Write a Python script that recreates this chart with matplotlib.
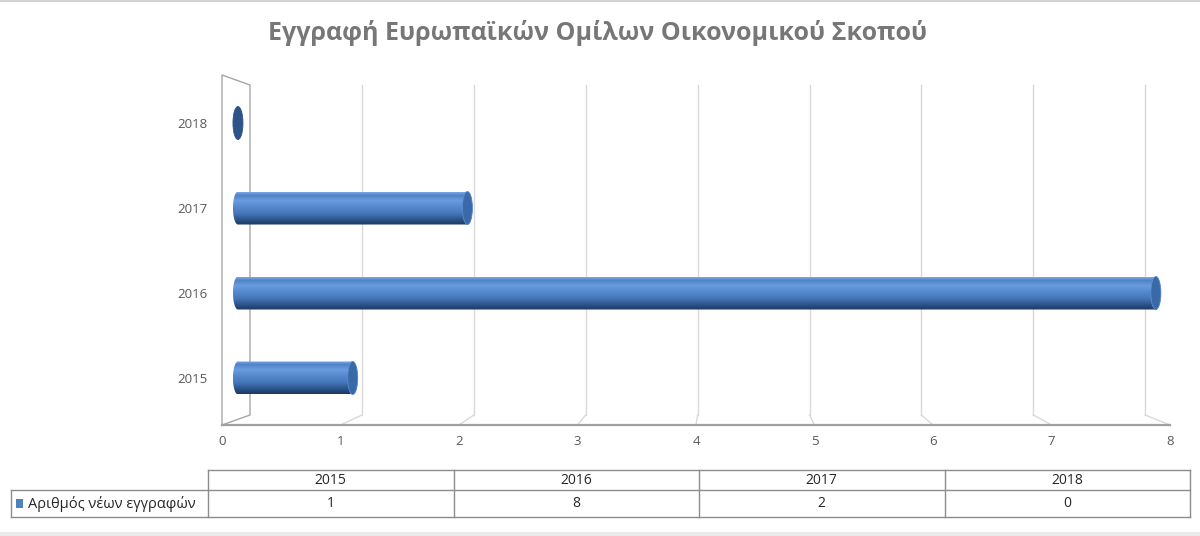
import numpy as np
import matplotlib
matplotlib.use("Agg")
import matplotlib.pyplot as plt
from matplotlib.colors import LinearSegmentedColormap
from matplotlib.patches import Ellipse, PathPatch, Rectangle
from matplotlib.path import Path

plt.rcParams['font.family'] = ['Open Sans', 'DejaVu Sans']

# data
titulo = "Εγγραφή Ευρωπαϊκών Ομίλων Οικονομικού Σκοπού"
serie = "Αριθμός νέων εγγραφών"
anios = ['2015', '2016', '2017', '2018']
valores = [1, 8, 2, 0]
x_ticks = list(range(0, 9))

W, H = 1200, 536
fig = plt.figure(figsize=(W / 100, H / 100), dpi=100)
fig.patch.set_facecolor("white")

# plot area in pixels (front plane)
px_l, px_r, px_t, px_b = 222, 1170, 75, 425
ax = fig.add_axes([px_l / W, 1 - px_b / H, (px_r - px_l) / W, (px_b - px_t) / H])
ax.set_facecolor("none")
for s in ax.spines.values():
    s.set_visible(False)

xmin, xmax = 0, 8
ymin, ymax = -0.553, 3.565
sx = (px_r - px_l) / (xmax - xmin)      # px per unit (front)
sy = (px_b - px_t) / (ymax - ymin)

# back plane (perspective): shifted/shrunk
back_off = 28 / sx
back_scale = 111.9 / sx
def bx(v):
    return back_off + back_scale * v

def x_at(v, d):
    return (1 - d) * v + d * bx(v)

yb_front, yt_front = ymin, ymax
yb_back, yt_back = ymin + 10 / sy, ymax - 10 / sy

grid_c = "#d9d9d9"
wall_c = "#a6a6a6"
for i in x_ticks[1:]:
    ax.plot([bx(i), bx(i)], [yb_back, yt_back], color=grid_c, lw=1, zorder=1, clip_on=False)
    ax.plot([bx(i), i], [yb_back, yb_front], color=grid_c, lw=1, zorder=1, clip_on=False)

# side wall
ax.plot([0, 0, bx(0), bx(0), 0], [yb_front, yt_front, yt_back, yb_back, yb_front],
        color=wall_c, lw=1, zorder=2, clip_on=False)
# floor front edge
ax.plot([0, 8], [yb_front, yb_front], color="#a0a0a0", lw=1.6, zorder=2, clip_on=False)

# cylinders
cmap = LinearSegmentedColormap.from_list("cil", [
    (0.0, "#1d385f"), (0.15, "#2b5289"), (0.35, "#4576ba"), (0.6, "#5a8dd2"),
    (0.74, "#6a9ddf"), (0.9, "#5082c9"), (1.0, "#7aa8e4")])
grad = np.linspace(0, 1, 200).reshape(-1, 1)

depth = 0.57
alto = 33 / sy
a = 5 / sx
for i, v in enumerate(valores):
    xs = x_at(0, depth)
    xe = x_at(v, depth)
    yc = i
    b = alto / 2
    th_r = np.linspace(-np.pi / 2, np.pi / 2, 40)
    th_l = np.linspace(np.pi / 2, 3 * np.pi / 2, 40)
    verts = np.vstack([
        np.column_stack([xe + a * np.cos(th_r), yc + b * np.sin(th_r)]),
        np.column_stack([xs + a * np.cos(th_l), yc + b * np.sin(th_l)]),
    ])
    verts = np.vstack([verts, verts[:1]])
    path = Path(verts, closed=True)
    patch = PathPatch(path, facecolor="none", edgecolor="none", zorder=3)
    ax.add_patch(patch)
    if v > 0:
        im = ax.imshow(grad, cmap=cmap, origin="lower", aspect="auto",
                       extent=[xs - a, xe + a, yc - b, yc + b], zorder=3)
        im.set_clip_path(patch)
        ax.add_patch(Ellipse((xe, yc), 2 * a, alto, facecolor="#3a69a8",
                             edgecolor="#5b8cd0", lw=0.6, zorder=4))
    else:
        ax.add_patch(Ellipse((xe, yc), 2 * a, alto, facecolor="#2c5488",
                             edgecolor="#2c5488", lw=0.6, zorder=4))

ax.set_xlim(xmin, xmax)
ax.set_ylim(ymin, ymax)

ax.set_yticks(range(len(anios)))
ax.set_yticklabels(anios)
ax.set_xticks(x_ticks)
ax.set_xticklabels([str(t) for t in x_ticks])
ax.tick_params(axis="y", length=0, pad=10.5, labelsize=9.5, labelcolor="#595959")
ax.tick_params(axis="x", length=0, pad=7, labelsize=9.5, labelcolor="#595959")

# title
fig.text(598 / W, 1 - 33 / H, titulo, ha="center", va="center",
         fontsize=18, fontweight="bold", color="#777777")

# data table in pixel coords
tb = fig.add_axes([0, 0, 1, 1])
tb.set_xlim(0, W)
tb.set_ylim(H, 0)
tb.axis("off")
tb.set_zorder(-1)

line_c = "#8c8c8c"
col_x = np.linspace(208, 1190, len(anios) + 1)
r_top, r_mid, r_bot = 470, 490, 517
lbl_l = 11
tb.plot([col_x[0], col_x[-1]], [r_top, r_top], color=line_c, lw=1)
tb.plot([lbl_l, col_x[-1]], [r_mid, r_mid], color=line_c, lw=1)
tb.plot([lbl_l, col_x[-1]], [r_bot, r_bot], color=line_c, lw=1)
tb.plot([lbl_l, lbl_l], [r_mid, r_bot], color=line_c, lw=1)
for cx in col_x:
    tb.plot([cx, cx], [r_top, r_bot], color=line_c, lw=1)
for j, (an, v) in enumerate(zip(anios, valores)):
    cx = (col_x[j] + col_x[j + 1]) / 2
    tb.text(cx, (r_top + r_mid) / 2, an, ha="center", va="center", fontsize=10, color="#262626")
    tb.text(cx, (r_mid + r_bot) / 2, str(v), ha="center", va="center", fontsize=10, color="#262626")
tb.add_patch(Rectangle((16, 499), 7, 9, facecolor="#4f81bd", edgecolor="none"))
tb.text(28, (r_mid + r_bot) / 2, serie, ha="left", va="center", fontsize=10.5, color="#262626")

# border bands
tb.add_patch(Rectangle((0, 0), W, 2, facecolor="#d4d4d4", edgecolor="none"))
tb.add_patch(Rectangle((0, 532), W, 4, facecolor="#ebebeb", edgecolor="none"))

fig.savefig("out.png", dpi=100)
